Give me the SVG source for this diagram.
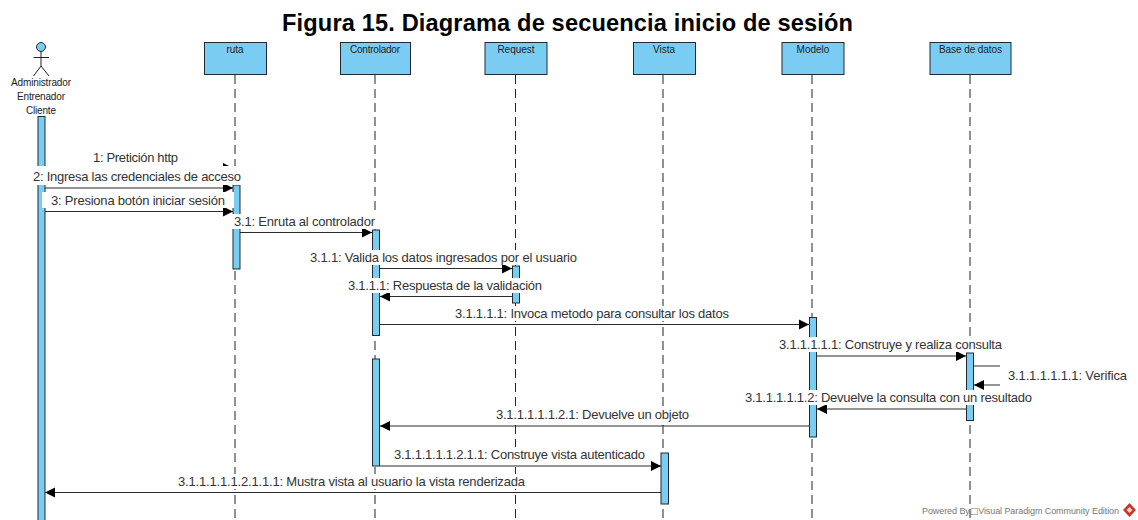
<svg xmlns="http://www.w3.org/2000/svg" width="1138" height="520" viewBox="0 0 1138 520">
<style>
text{font-family:"Liberation Sans",Arial,sans-serif}
.title{font-size:23.6px;font-weight:bold;fill:#000}
.box,.bar{fill:#7accf3;stroke:#1f2a33;stroke-width:1}
.name{font-size:10px;fill:#222;text-anchor:middle}
.life{stroke:#222;stroke-width:1;stroke-dasharray:9 5;fill:none}
.msg{stroke:#2b2b2b;stroke-width:1;fill:none}
.lab{font-size:13px;fill:#333}
.bg{fill:#fff}
.wm{font-size:9px;fill:#777}
</style>
<defs>
<marker id="ah" markerUnits="userSpaceOnUse" markerWidth="12" markerHeight="12" refX="10" refY="6" orient="auto"><path d="M0 1L10 6L0 11Z" fill="#000"/></marker>
</defs>
<rect width="1138" height="520" fill="#fff"/>
<text class="title" x="282" y="31" textLength="571">Figura 15. Diagrama de secuencia inicio de sesión</text>
<g id="actor">
<circle cx="41" cy="47" r="4.500" fill="#7accf3" stroke="#1f2a33"/>
<path d="M41 51.500V66M33.500 57.500H49M33.500 76L41 66L49 76" fill="none" stroke="#222"/>
<text class="name" x="41" y="85.500" textLength="60">Administrador</text>
<text class="name" x="41" y="99.500" textLength="48">Entrenador</text>
<text class="name" x="41" y="113.500" textLength="30">Cliente</text>
<rect class="bar" x="38" y="116.500" width="7" height="404"/>
</g>
<g id="ruta">
<path class="life" d="M235 75V520"/>
<rect class="box" x="204.500" y="42.500" width="62" height="32"/>
<text class="name" x="235" y="53">ruta</text>
<rect class="bar" x="233" y="185" width="7" height="84"/>
</g>
<g id="controlador">
<path class="life" d="M375 75V520"/>
<rect class="box" x="340.500" y="42.500" width="70" height="32"/>
<text class="name" x="375" y="53" textLength="50">Controlador</text>
<rect class="bar" x="372.500" y="230" width="7" height="105.500"/>
<rect class="bar" x="372.500" y="359" width="7" height="107"/>
</g>
<g id="request">
<path class="life" d="M515.500 75V520"/>
<rect class="box" x="485" y="42.500" width="62" height="32"/>
<text class="name" x="516" y="53">Request</text>
<rect class="bar" x="512.500" y="266" width="7" height="37"/>
</g>
<g id="vista">
<path class="life" d="M663 75V520"/>
<rect class="box" x="633.500" y="42.500" width="62" height="32"/>
<text class="name" x="664" y="53">Vista</text>
<rect class="bar" x="661" y="453" width="7.500" height="51"/>
</g>
<g id="modelo">
<path class="life" d="M812 75V520"/>
<rect class="box" x="782" y="42.500" width="62" height="32"/>
<text class="name" x="813" y="53">Modelo</text>
<rect class="bar" x="809.500" y="317.500" width="7" height="119.500"/>
</g>
<g id="base-de-datos">
<path class="life" d="M970 75V520"/>
<rect class="box" x="930" y="42.500" width="81" height="32"/>
<text class="name" x="970.500" y="53" textLength="63">Base de datos</text>
<rect class="bar" x="966.500" y="353" width="7" height="67.500"/>
</g>
<g id="connectors">
<path class="msg" d="M45 168H233" marker-end="url(#ah)"/>
<path class="msg" d="M45 188H233" marker-end="url(#ah)"/>
<path class="msg" d="M45 211.500H233" marker-end="url(#ah)"/>
<path class="msg" d="M240 232.500H372" marker-end="url(#ah)"/>
<path class="msg" d="M380 268.500H512" marker-end="url(#ah)"/>
<path class="msg" d="M512 296.500H380" marker-end="url(#ah)"/>
<path class="msg" d="M380 324.500H809" marker-end="url(#ah)"/>
<path class="msg" d="M817 356H966" marker-end="url(#ah)"/>
<path class="msg" d="M974 366H1000M1000 385H974" marker-end="url(#ah)"/>
<path class="msg" d="M966 409H817" marker-end="url(#ah)"/>
<path class="msg" d="M809 426H380" marker-end="url(#ah)"/>
<path class="msg" d="M380 466H661" marker-end="url(#ah)"/>
<path class="msg" d="M661 492.500H45" marker-end="url(#ah)"/>
</g>
<g id="labels">
<rect class="bg" x="88" y="150" width="146" height="12"/>
<text class="lab" x="93" y="162" textLength="85">1: Pretición http</text>
<rect class="bg" x="31" y="166" width="211" height="19"/>
<text class="lab" x="33" y="181" textLength="208">2: Ingresa las credenciales de acceso</text>
<rect class="bg" x="42" y="192" width="192" height="16"/>
<text class="lab" x="51" y="204.500" textLength="174">3: Presiona botón iniciar sesión</text>
<rect class="bg" x="231" y="214" width="145" height="15"/>
<text class="lab" x="234" y="226" textLength="141">3.1: Enruta al controlador</text>
<rect class="bg" x="308" y="250" width="270" height="15"/>
<text class="lab" x="310" y="262" textLength="267">3.1.1: Valida los datos ingresados por el usuario</text>
<rect class="bg" x="346" y="278" width="198" height="15"/>
<text class="lab" x="348" y="290" textLength="194">3.1.1.1: Respuesta de la validación</text>
<rect class="bg" x="453" y="306" width="278" height="15"/>
<text class="lab" x="455" y="318" textLength="274">3.1.1.1.1: Invoca metodo para consultar los datos</text>
<rect class="bg" x="777" y="337" width="227" height="15"/>
<text class="lab" x="779" y="349" textLength="223">3.1.1.1.1.1: Construye y realiza consulta</text>
<text class="lab" x="1008" y="380" textLength="119">3.1.1.1.1.1.1: Verifica</text>
<rect class="bg" x="743" y="390" width="291" height="15"/>
<text class="lab" x="745" y="402" textLength="287">3.1.1.1.1.1.2: Devuelve la consulta con un resultado</text>
<rect class="bg" x="494" y="407" width="197" height="15"/>
<text class="lab" x="496" y="419" textLength="193">3.1.1.1.1.1.2.1: Devuelve un objeto</text>
<rect class="bg" x="392" y="447" width="255" height="15"/>
<text class="lab" x="394" y="459" textLength="251">3.1.1.1.1.1.2.1.1: Construye vista autenticado</text>
<rect class="bg" x="176" y="474" width="351" height="15"/>
<text class="lab" x="178" y="486" textLength="347">3.1.1.1.1.1.2.1.1.1: Mustra vista al usuario la vista renderizada</text>
</g>
<g id="watermark">
<text class="wm" x="922" y="514" textLength="197">Powered By<tspan style="font-family:'DejaVu Sans',sans-serif">□</tspan>Visual Paradigm Community Edition</text>
<path d="M1129.500 503L1136 510L1129.500 517L1123 510Z" fill="#c8352b"/>
<path d="M1129.500 507L1132.500 510L1129.500 513L1126.500 510Z" fill="#f3d9c8"/>
</g>
</svg>
